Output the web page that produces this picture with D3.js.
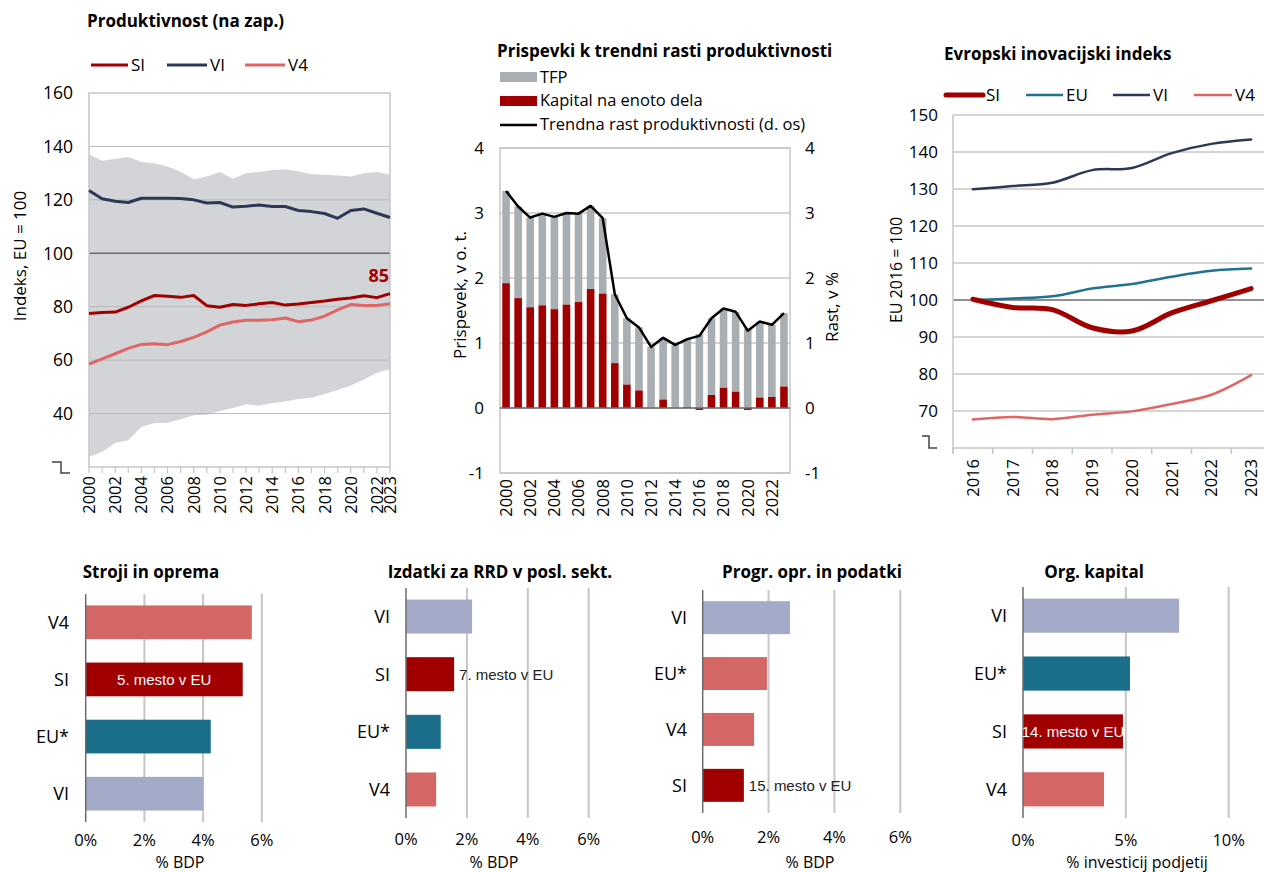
<!DOCTYPE html>
<html>
<head>
<meta charset="utf-8">
<script src="https://cdn.jsdelivr.net/npm/d3@7"></script>
<style>
  body { margin: 0; background: #fff; }
  svg { font-family: "Open Sans", sans-serif; }
</style>
</head>
<body>
<div class="chart"></div>
<script>
// ---- podatki: produktivnost (na zap.), EU = 100
var leta = ["2000","2001","2002","2003","2004","2005","2006","2007","2008","2009","2010","2011",
            "2012","2013","2014","2015","2016","2017","2018","2019","2020","2021","2022","2023"];
var prodSI  = [77.5, 77.8, 78.0, 79.8, 82.2, 84.2, 83.9, 83.5, 84.2, 80.4, 79.8, 80.8,
               80.5, 81.1, 81.6, 80.6, 81.0, 81.6, 82.1, 82.8, 83.3, 84.1, 83.4, 84.9];
var prodVI  = [123.5, 120.4, 119.5, 119.0, 120.6, 120.6, 120.6, 120.5, 120.0, 118.8, 119.0, 117.3,
               117.6, 118.1, 117.5, 117.5, 116.0, 115.6, 114.9, 113.1, 116.0, 116.6, 115.0, 113.4];
var prodV4  = [58.5, 60.5, 62.4, 64.4, 65.9, 66.1, 65.8, 67.0, 68.5, 70.6, 73.1, 74.3,
               74.9, 74.9, 75.1, 75.8, 74.4, 75.0, 76.5, 78.8, 80.8, 80.5, 80.5, 81.1];
var prodMax = [137.1, 134.6, 135.4, 136.0, 134.2, 133.7, 132.5, 130.5, 127.7, 128.7, 130.4, 127.9,
               130.0, 130.4, 131.2, 131.4, 130.7, 129.6, 129.4, 129.1, 128.7, 130.0, 130.4, 129.4];
var prodMin = [23.8, 25.6, 29.0, 30.0, 35.0, 36.5, 36.6, 37.9, 39.4, 39.6, 41.0, 42.1,
               43.5, 42.9, 44.0, 44.5, 45.5, 45.9, 47.3, 48.8, 50.5, 52.8, 55.3, 56.6];
var prodTicks = [40, 60, 80, 100, 120, 140, 160];
var prodLabelLeta = ["2000","2002","2004","2006","2008","2010","2012","2014","2016","2018","2020","2022","2023"];

// ---- podatki: prispevki k trendni rasti produktivnosti
var kapital = [1.92, 1.69, 1.55, 1.58, 1.52, 1.59, 1.63, 1.83, 1.76, 0.69, 0.36, 0.27,
               0.00, 0.13, 0.00, 0.01, -0.03, 0.20, 0.31, 0.25, -0.03, 0.16, 0.17, 0.33];
var tfp     = [1.42, 1.41, 1.38, 1.41, 1.42, 1.41, 1.36, 1.28, 1.16, 1.06, 1.02, 0.97,
               0.94, 0.95, 0.97, 1.05, 1.14, 1.18, 1.22, 1.23, 1.22, 1.17, 1.11, 1.13];
var trend   = [3.34, 3.10, 2.93, 2.99, 2.94, 3.00, 2.99, 3.11, 2.92, 1.75, 1.38, 1.24,
               0.94, 1.08, 0.97, 1.06, 1.11, 1.38, 1.53, 1.48, 1.19, 1.33, 1.28, 1.46];
var prispTicks = [-1, 0, 1, 2, 3, 4];
var prispLabelLeta = ["2000","2002","2004","2006","2008","2010","2012","2014","2016","2018","2020","2022"];

// ---- podatki: evropski inovacijski indeks, EU 2016 = 100
var eisLeta = ["2016","2017","2018","2019","2020","2021","2022","2023"];
var eisSI = [100.2, 98.0, 97.4, 92.5, 91.6, 96.5, 99.8, 103.1];
var eisEU = [100.0, 100.4, 101.0, 103.1, 104.3, 106.3, 107.9, 108.5];
var eisVI = [129.9, 130.8, 131.7, 135.1, 135.7, 139.7, 142.2, 143.4];
var eisV4 = [67.7, 68.4, 67.8, 69.0, 69.9, 71.9, 74.4, 79.7];
var eisTicks = [70, 80, 90, 100, 110, 120, 130, 140, 150];

// ---- podatki: spodnji stolpci
var strojiKat = ["V4", "SI", "EU*", "VI"];
var strojiVal = [5.66, 5.35, 4.26, 4.01];
var rrdKat = ["VI", "SI", "EU*", "V4"];
var rrdVal = [2.17, 1.58, 1.14, 0.99];
var progrKat = ["VI", "EU*", "V4", "SI"];
var progrVal = [2.65, 1.95, 1.56, 1.25];
var orgKat = ["VI", "EU*", "SI", "V4"];
var orgVal = [7.59, 5.20, 4.86, 3.94];
var ticksBDP = [0, 2, 4, 6];
var ticksOrg = [0, 5, 10];

// ---- barve
var barve = { SI: "#a00000", VI: "#2e3856", V4: "#e06666", EU: "#1f7391" };
var barveStolpci = { "SI": "#a00000", "VI": "#a3abc8", "V4": "#d46666", "EU*": "#1a6e8a" };
var sivaMreza = "#c6c6c6";
var temnaOs = "#6b6b6b";

var W = 1264, H = 872;
var svg = d3.select(".chart").append("svg")
  .attr("width", W).attr("height", H);

function naslov(x, y, t, anchor) {
  svg.append("text").attr("x", x).attr("y", y)
    .attr("text-anchor", anchor || "start")
    .style("font-weight", "bold").style("font-size", "17px")
    .text(t);
}
function navpicniNaslov(x, y, t, size) {
  svg.append("text")
    .attr("transform", "translate(" + x + "," + y + ") rotate(-90)")
    .attr("text-anchor", "middle")
    .style("font-size", (size || 16) + "px")
    .text(t);
}
function prelom(x0, x1, x2, ya, yb) {
  svg.append("path")
    .attr("d", "M" + x0 + "," + ya + "H" + x1 + "V" + yb + "H" + x2)
    .attr("fill", "none").attr("stroke", "#444").attr("stroke-width", 1.5);
}

// =============== 1. Produktivnost ===============
(function() {
  var L = 89, R = 390, T = 93, B = 467;
  var x = d3.scalePoint().domain(leta).range([L, R]);
  var y = d3.scaleLinear().domain([20, 160]).range([B, T]);
  var g = svg.append("g");

  naslov(87, 27, "Produktivnost (na zap.)");

  // legenda
  var leg = [["SI", 91, 128], ["VI", 167, 207], ["V4", 245, 285]];
  leg.forEach(function(d) {
    g.append("line").attr("x1", d[1]).attr("x2", d[2]).attr("y1", 65).attr("y2", 65)
      .attr("stroke", barve[d[0]]).attr("stroke-width", 3);
    g.append("text").attr("x", d[2] + 3).attr("y", 71).style("font-size", "17px").text(d[0]);
  });

  // pas min-max
  var area = d3.area()
    .x(function(d, i) { return x(leta[i]); })
    .y0(function(d, i) { return y(prodMin[i]); })
    .y1(function(d, i) { return y(prodMax[i]); });
  g.append("path").datum(leta).attr("d", area).attr("fill", "#d2d4d7");

  // mreza
  g.selectAll(".grid1").data(prodTicks.filter(function(v) { return v !== 160; }))
    .enter().append("line")
    .attr("x1", L).attr("x2", R)
    .attr("y1", function(d) { return y(d); }).attr("y2", function(d) { return y(d); })
    .attr("stroke", function(d) { return d === 100 ? temnaOs : "#b9b9b9"; })
    .attr("stroke-width", function(d) { return d === 100 ? 1.4 : 1; });
  g.append("rect").attr("x", L).attr("y", T).attr("width", R - L).attr("height", B - T)
    .attr("fill", "none").attr("stroke", sivaMreza).attr("stroke-width", 1.5);

  // os y
  g.selectAll(".yl1").data(prodTicks).enter().append("text")
    .attr("x", 73).attr("y", function(d) { return y(d); }).attr("dy", "0.36em")
    .attr("text-anchor", "end").style("font-size", "17.5px")
    .text(function(d) { return d; });
  prelom(52, 61, 70, 462, 473);
  navpicniNaslov(26, 256, "Indeks, EU = 100", 17);

  // os x
  g.selectAll(".xt1").data(leta).enter().append("line")
    .attr("x1", function(d) { return x(d); }).attr("x2", function(d) { return x(d); })
    .attr("y1", B).attr("y2", B + 6).attr("stroke", sivaMreza).attr("stroke-width", 1.2);
  g.selectAll(".xl1").data(prodLabelLeta).enter().append("text")
    .attr("transform", function(d) { return "translate(" + x(d) + "," + (B + 9) + ") rotate(-90)"; })
    .attr("dy", "0.36em").attr("text-anchor", "end").style("font-size", "16.5px")
    .text(function(d) { return d; });

  // crte
  var serije = [["V4", prodV4], ["VI", prodVI], ["SI", prodSI]];
  serije.forEach(function(s) {
    var line = d3.line().x(function(d, i) { return x(leta[i]); }).y(function(d) { return y(d); });
    g.append("path").datum(s[1]).attr("d", line).attr("fill", "none")
      .attr("stroke", barve[s[0]]).attr("stroke-width", 3).attr("stroke-linejoin", "round");
  });
  g.append("text").attr("x", 389).attr("y", 282).attr("text-anchor", "end")
    .style("font-weight", "bold").style("font-size", "18px").attr("fill", barve.SI)
    .text(d3.format(".0f")(prodSI[prodSI.length - 1]));
})();

// =============== 2. Prispevki ===============
(function() {
  var L = 500, R = 790, T = 148, B = 473;
  var x = d3.scaleBand().domain(leta).range([L, R]).paddingInner(0.37).paddingOuter(0.185);
  var y = d3.scaleLinear().domain([-1, 4]).range([B, T]);
  var g = svg.append("g");

  naslov(497, 57, "Prispevki k trendni rasti produktivnosti");

  // legenda
  g.append("rect").attr("x", 500).attr("y", 72).attr("width", 37).attr("height", 10).attr("fill", "#a9aeb3");
  g.append("text").attr("x", 540).attr("y", 83).style("font-size", "16.5px").text("TFP");
  g.append("rect").attr("x", 500).attr("y", 96).attr("width", 37).attr("height", 10).attr("fill", barve.SI);
  g.append("text").attr("x", 540).attr("y", 106).style("font-size", "16.5px").text("Kapital na enoto dela");
  g.append("line").attr("x1", 500).attr("x2", 537).attr("y1", 125).attr("y2", 125)
    .attr("stroke", "#000").attr("stroke-width", 2.5);
  g.append("text").attr("x", 540).attr("y", 130).style("font-size", "16.5px").text("Trendna rast produktivnosti (d. os)");

  // mreza
  g.selectAll(".grid2").data(prispTicks).enter().append("line")
    .attr("x1", L).attr("x2", R)
    .attr("y1", function(d) { return y(d); }).attr("y2", function(d) { return y(d); })
    .attr("stroke", sivaMreza).attr("stroke-width", 1.3);
  g.append("rect").attr("x", L).attr("y", T).attr("width", R - L).attr("height", B - T)
    .attr("fill", "none").attr("stroke", sivaMreza).attr("stroke-width", 1.5);

  // stolpci
  var bw = x.bandwidth();
  g.selectAll(".tfp").data(leta).enter().append("rect")
    .attr("x", function(d) { return x(d); }).attr("width", bw)
    .attr("y", function(d, i) { return y(Math.max(kapital[i], 0) + tfp[i]); })
    .attr("height", function(d, i) { return y(Math.max(kapital[i], 0)) - y(Math.max(kapital[i], 0) + tfp[i]); })
    .attr("fill", "#a9aeb3");
  g.selectAll(".kap").data(leta).enter().append("rect")
    .attr("x", function(d) { return x(d); }).attr("width", bw)
    .attr("y", function(d, i) { return y(Math.max(kapital[i], 0)); })
    .attr("height", function(d, i) { return Math.abs(y(kapital[i]) - y(0)); })
    .attr("fill", barve.SI);

  g.append("line").attr("x1", L).attr("x2", R).attr("y1", y(0)).attr("y2", y(0))
    .attr("stroke", temnaOs).attr("stroke-width", 1.5);

  // crta
  var line = d3.line().x(function(d, i) { return x(leta[i]) + bw / 2; }).y(function(d) { return y(d); });
  g.append("path").datum(trend).attr("d", line).attr("fill", "none")
    .attr("stroke", "#000").attr("stroke-width", 2.5).attr("stroke-linejoin", "round");

  // osi
  g.selectAll(".yl2").data(prispTicks).enter().append("text")
    .attr("x", 484).attr("y", function(d) { return y(d); }).attr("dy", "0.36em")
    .attr("text-anchor", "end").style("font-size", "17px").text(function(d) { return d; });
  g.selectAll(".yr2").data(prispTicks).enter().append("text")
    .attr("x", 805).attr("y", function(d) { return y(d); }).attr("dy", "0.36em")
    .style("font-size", "17px").text(function(d) { return d; });
  navpicniNaslov(466, 295, "Prispevek, v o. t.", 17);
  navpicniNaslov(838, 307, "Rast, v %", 17);
  g.selectAll(".xl2").data(prispLabelLeta).enter().append("text")
    .attr("transform", function(d) { return "translate(" + (x(d) + bw / 2) + "," + (B + 6) + ") rotate(-90)"; })
    .attr("dy", "0.36em").attr("text-anchor", "end").style("font-size", "16.5px")
    .text(function(d) { return d; });
})();

// =============== 3. Evropski inovacijski indeks ===============
(function() {
  var L = 953, R = 1271, T = 115, B = 448;
  var x = d3.scaleBand().domain(eisLeta).range([L, R]);
  var y = d3.scaleLinear().domain([60, 150]).range([B, T]);
  var g = svg.append("g");

  naslov(944, 60, "Evropski inovacijski indeks");

  var leg = [["SI", 946, 983, 5], ["EU", 1026, 1063, 2.5], ["VI", 1113, 1150, 2.5], ["V4", 1194, 1232, 2.5]];
  leg.forEach(function(d) {
    g.append("line").attr("x1", d[1]).attr("x2", d[2]).attr("y1", 95).attr("y2", 95)
      .attr("stroke", barve[d[0]]).attr("stroke-width", d[3]).attr("stroke-linecap", d[3] > 3 ? "round" : "butt");
    g.append("text").attr("x", d[2] + 3).attr("y", 101).style("font-size", "17px").text(d[0]);
  });

  g.selectAll(".grid3").data(eisTicks).enter().append("line")
    .attr("x1", L).attr("x2", R)
    .attr("y1", function(d) { return y(d); }).attr("y2", function(d) { return y(d); })
    .attr("stroke", function(d) { return d === 100 ? temnaOs : sivaMreza; })
    .attr("stroke-width", function(d) { return d === 100 ? 1.4 : 1.3; });
  g.append("line").attr("x1", L).attr("x2", L).attr("y1", T).attr("y2", B + 6)
    .attr("stroke", sivaMreza).attr("stroke-width", 1.5);
  g.append("line").attr("x1", L).attr("x2", R).attr("y1", B).attr("y2", B)
    .attr("stroke", sivaMreza).attr("stroke-width", 1.5);
  g.selectAll(".xt3").data(eisLeta).enter().append("line")
    .attr("x1", function(d) { return x(d); }).attr("x2", function(d) { return x(d); })
    .attr("y1", B).attr("y2", B + 6).attr("stroke", sivaMreza).attr("stroke-width", 1.5);

  g.selectAll(".yl3").data(eisTicks).enter().append("text")
    .attr("x", 938).attr("y", function(d) { return y(d); }).attr("dy", "0.36em")
    .attr("text-anchor", "end").style("font-size", "17px").text(function(d) { return d; });
  prelom(922, 929, 937, 436, 448);
  navpicniNaslov(902, 270, "EU 2016 = 100", 16);

  g.selectAll(".xl3").data(eisLeta).enter().append("text")
    .attr("transform", function(d) { return "translate(" + (x(d) + x.bandwidth() / 2) + "," + (B + 11) + ") rotate(-90)"; })
    .attr("dy", "0.36em").attr("text-anchor", "end").style("font-size", "16.5px")
    .text(function(d) { return d; });

  var serije = [["V4", eisV4, 2.5], ["VI", eisVI, 2.5], ["EU", eisEU, 2.5], ["SI", eisSI, 5]];
  serije.forEach(function(s) {
    var line = d3.line().curve(d3.curveCatmullRom.alpha(0.5))
      .x(function(d, i) { return x(eisLeta[i]) + x.bandwidth() / 2; })
      .y(function(d) { return y(d); });
    g.append("path").datum(s[1]).attr("d", line).attr("fill", "none")
      .attr("stroke", barve[s[0]]).attr("stroke-width", s[2])
      .attr("stroke-linecap", "round").attr("stroke-linejoin", "round");
  });
})();

// =============== spodnji stolpci ===============
function stolpci(o) {
  var x = d3.scaleLinear().domain([0, o.max]).range([o.x0, o.x1]);
  var y = d3.scaleBand().domain(o.kat).range([o.y0, o.y1]).paddingInner(0.41).paddingOuter(0.2);
  var g = svg.append("g");

  naslov(o.naslovX, 578, o.naslov, "middle");

  g.selectAll(".gr").data(o.ticks.slice(1)).enter().append("line")
    .attr("x1", function(d) { return x(d); }).attr("x2", function(d) { return x(d); })
    .attr("y1", o.y0).attr("y2", o.y1).attr("stroke", sivaMreza).attr("stroke-width", 2);

  g.selectAll(".bar").data(o.kat).enter().append("rect")
    .attr("x", x(0)).attr("y", function(d) { return y(d); })
    .attr("width", function(d, i) { return x(o.val[i]) - x(0); })
    .attr("height", y.bandwidth())
    .attr("fill", function(d) { return (o.barve && o.barve[d]) || barveStolpci[d]; });

  g.append("line").attr("x1", x(0)).attr("x2", x(0)).attr("y1", o.y0).attr("y2", o.y1)
    .attr("stroke", temnaOs).attr("stroke-width", 1.5);

  g.selectAll(".kl").data(o.kat).enter().append("text")
    .attr("x", o.katX).attr("y", function(d) { return y(d) + y.bandwidth() / 2; })
    .attr("dy", "0.36em").attr("text-anchor", "end").style("font-size", "18px")
    .text(function(d) { return d; });

  g.selectAll(".tl").data(o.ticks).enter().append("text")
    .attr("x", function(d) { return x(d); }).attr("y", o.tickY)
    .attr("text-anchor", "middle").style("font-size", "16.5px")
    .text(function(d) { return d + "%"; });
  g.append("text").attr("x", o.osX).attr("y", 868).attr("text-anchor", "middle")
    .style("font-size", "16px").text(o.os);

  // oznaka mesta SI
  var iSI = o.kat.indexOf("SI");
  var lab = g.append("text")
    .attr("y", y("SI") + y.bandwidth() / 2).attr("dy", "0.36em")
    .style("font-family", "'Liberation Sans', Arial, sans-serif").style("font-size", "15px")
    .text(o.mesto);
  if (o.mestoNotri) {
    lab.attr("x", (x(0) + x(o.val[iSI])) / 2).attr("text-anchor", "middle").attr("fill", "#fff");
  } else {
    lab.attr("x", x(o.val[iSI]) + 5).attr("fill", "#222");
  }
}

stolpci({ naslov: "Stroji in oprema", naslovX: 151, kat: strojiKat, val: strojiVal, max: 6,
  ticks: ticksBDP, x0: 85.7, x1: 261.8, y0: 594, y1: 822, katX: 69, tickY: 846,
  os: "% BDP", osX: 180, mesto: "5. mesto v EU", mestoNotri: true });
stolpci({ naslov: "Izdatki za RRD v posl. sekt.", naslovX: 500, kat: rrdKat, val: rrdVal, max: 6,
  ticks: ticksBDP, x0: 406, x1: 588.7, y0: 588, y1: 818, katX: 390, tickY: 845,
  os: "% BDP", osX: 494, mesto: "7. mesto v EU", mestoNotri: false });
stolpci({ naslov: "Progr. opr. in podatki", naslovX: 812, kat: progrKat, val: progrVal, max: 6,
  ticks: ticksBDP, x0: 702.7, x1: 900.3, y0: 590, y1: 813, katX: 687, tickY: 843,
  os: "% BDP", osX: 810, mesto: "15. mesto v EU", mestoNotri: false,
  barve: { "EU*": "#d46666" } });
stolpci({ naslov: "Org. kapital", naslovX: 1094, kat: orgKat, val: orgVal, max: 10,
  ticks: ticksOrg, x0: 1023, x1: 1228.7, y0: 587, y1: 818, katX: 1007, tickY: 846,
  os: "% investicij podjetij", osX: 1137, mesto: "14. mesto v EU", mestoNotri: true });
</script>
</body>
</html>
